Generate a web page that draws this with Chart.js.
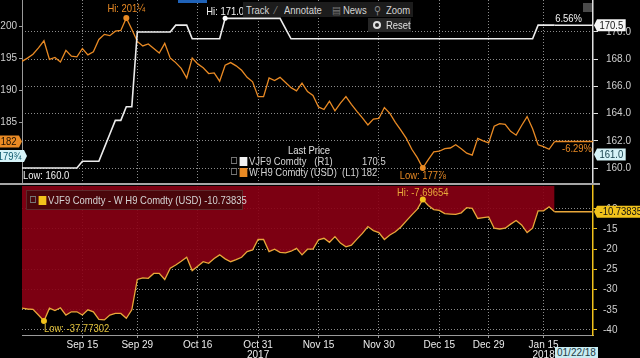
<!DOCTYPE html>
<html>
<head>
<meta charset="utf-8">
<script src="https://cdn.jsdelivr.net/npm/chart.js@4.4.1/dist/chart.umd.min.js"></script>
<style>
  body { margin: 0; background: #000; }
  #wrap { position: relative; width: 640px; height: 358px; overflow: hidden; background: #000;
          font-family: "Liberation Sans", Arial, sans-serif; font-size: 11px; color: #d4d4d4; }
  #topBox { position: absolute; left: 0; top: 0; width: 640px; height: 183px; }
  #botBox { position: absolute; left: 0; top: 185px; width: 640px; height: 173px; }
  .sep { position: absolute; left: 0; top: 183px; width: 600px; height: 2px; background: #a6a6a6; }
  .txt { position: absolute; white-space: nowrap; line-height: 12px; transform: scaleX(0.86); transform-origin: 0 0; }
  .btn { position: absolute; background: #1c1c1c; height: 15px; }
  .ic { display: inline-block; width: 5px; height: 5px; border: 1px solid #777; margin-right: 3px; vertical-align: 1px; }
  .sq { display: inline-block; width: 9px; height: 9px; margin-right: 2px; vertical-align: -1px; }
</style>
</head>
<body>
<div id="wrap">
  <div id="topBox"><canvas id="topChart"></canvas></div>
  <div class="sep"></div>
  <div id="botBox"><canvas id="botChart"></canvas></div>

  <!-- toolbar -->
  <div style="position:absolute;left:178px;top:0;width:29px;height:3px;background:#1f62b8"></div>
  <div class="btn" style="left:243px;top:2px;width:170px"></div>
  <div class="txt" style="left:246px;top:4px;color:#d6d6d6">Track</div>
  <div class="txt" style="left:275px;top:4px;color:#8a8a8a">&#8260;</div>
  <div class="txt" style="left:284px;top:4px">Annotate</div>
  <div class="txt" style="left:332px;top:4px;color:#777">&#9636;</div>
  <div class="txt" style="left:343px;top:4px">News</div>
  <div class="txt" style="left:374px;top:4px;color:#888">&#9906;</div>
  <div class="txt" style="left:386px;top:4px">Zoom</div>
  <div class="btn" style="left:368px;top:18px;width:43px;height:14px;background:#262626"></div>
  <div style="position:absolute;left:373px;top:21px;width:4px;height:4px;border:2px solid #e0e0e0;border-radius:50%"></div>
  <div class="txt" style="left:386px;top:19px;color:#e0e0e0">Reset</div>
  <div style="position:absolute;left:583px;top:3px;width:9px;height:9px;background:#4a4a4a"></div>

  <!-- top legend -->
  <div class="txt" style="left:288px;top:144px;color:#e0e0e0">Last Price</div>
  <div class="txt" style="left:231px;top:155px"><span class="ic"></span><span class="sq" style="background:#f2f2f2"></span>VJF9 Comdty&nbsp;&nbsp;&nbsp;(R1)</div>
  <div class="txt" style="left:362px;top:155px">170.5</div>
  <div class="txt" style="left:231px;top:166px"><span class="ic"></span><span class="sq" style="background:#e98a24"></span>W H9 Comdty (USD)&nbsp;&nbsp;(L1) 182</div>

  <!-- bottom legend -->
  <div style="position:absolute;left:26px;top:190px;width:215px;height:18px;background:#4a060b;border:1px solid #5e2a2c"></div>
  <div class="txt" style="left:30px;top:194px"><span class="ic"></span><span class="sq" style="background:#f1c21b"></span>VJF9 Comdty - W H9 Comdty (USD) -10.73835</div>

  <!-- date box -->
  <div class="txt" style="left:555px;top:347px;background:#c9ecf2;color:#1a3a44;padding:0 2px;line-height:11px;transform:none;font-size:10px">01/22/18</div>
</div>

<script>
// trading-day index of every point, Sep 2017 .. Jan 2018
const tickDays = [11, 21, 32, 43, 54, 65, 76, 85, 95];
const tickLabels = ["Sep 15", "Sep 29", "Oct 16", "Oct 31", "Nov 15", "Nov 30", "Dec 15", "Dec 29", "Jan 15"];
const tickYears = ["", "", "", "2017", "", "", "", "", "2018"];

const leftTicks = [185, 190, 195, 200];
const rightTicks = [160, 162, 164, 166, 168, 170];
const spreadTicks = [-10, -15, -20, -25, -30, -35, -40];

// VJF9 Comdty (R1)
const vjf9 = [
  160.0, 160.0, 160.0, 160.0, 160.0, 160.0, 160.0, 160.0, 160.0, 160.0,
  160.0, 160.5, 160.5, 160.5, 160.5, 161.5, 162.5, 163.5, 163.5, 164.5,
  164.5, 170.0, 170.0, 170.0, 170.0, 170.0, 170.0, 170.0, 170.5, 170.5,
  170.5, 169.5, 169.5, 169.5, 169.5, 169.5, 169.5, 171.0, 171.0, 171.0,
  171.0, 171.0, 171.0, 171.0, 171.0, 171.0, 171.0, 171.0, 170.25, 169.5,
  169.5, 169.5, 169.5, 169.5, 169.5, 169.5, 169.5, 169.5, 169.5, 169.5,
  169.5, 169.5, 169.5, 169.5, 169.5, 169.5, 169.5, 169.5, 169.5, 169.5,
  169.5, 169.5, 169.5, 169.5, 169.5, 169.5, 169.5, 169.5, 169.5, 169.5,
  169.5, 169.5, 169.5, 169.5, 169.5, 169.5, 169.5, 169.5, 169.5, 169.5,
  169.5, 169.5, 169.5, 169.5, 170.5, 170.5, 170.5, 170.5
];

// W H9 Comdty (USD) (L1)
const wh9 = [
  194.5, 195.0, 195.6, 196.6, 197.7, 194.8, 195.1, 194.4, 196.2, 195.3,
  195.2, 196.5, 195.5, 196.0, 197.9, 198.7, 198.5, 199.2, 199.3, 201.25,
  199.5, 197.6, 196.9, 197.2, 196.5, 195.8, 197.3, 195.0, 194.3, 193.4,
  191.9, 195.0, 194.1, 193.5, 192.6, 192.7, 191.4, 193.9, 194.3, 193.8,
  193.1, 192.0, 191.3, 189.0, 189.0, 191.9, 191.5, 192.0, 191.2, 190.4,
  189.9, 191.1, 189.8, 189.2, 187.4, 187.0, 188.3, 186.8, 188.0, 189.0,
  187.8, 186.7, 185.7, 184.6, 185.5, 185.6, 187.3, 186.4, 185.0, 183.8,
  182.5, 180.8, 179.5, 177.875, 179.2, 180.4, 180.5, 180.9, 181.0, 181.5,
  180.9, 180.2, 179.9, 182.5, 182.1, 181.8, 184.4, 184.8, 184.7, 183.6,
  183.0, 184.5, 185.9, 184.0, 181.5, 181.2, 180.8, 182.0
];

// VJF9 Comdty - W H9 Comdty (USD)
const spread = [
  -34.6, -34.8, -34.9, -36.3, -37.77302, -34.6, -35.2, -34.5, -36.3, -35.5,
  -35.5, -36.3, -35.0, -35.5, -37.4, -37.5, -36.3, -35.9, -35.9, -37.1,
  -35.0, -27.5, -27.1, -27.2, -26.0, -26.0, -27.5, -24.7, -23.9, -23.0,
  -22.0, -25.3, -24.2, -23.1, -23.5, -22.3, -21.4, -22.4, -23.1, -22.6,
  -22.0, -20.6, -20.2, -17.6, -17.6, -20.6, -20.0, -20.8, -20.9, -20.5,
  -19.8, -21.4, -20.0, -20.0, -17.7, -17.3, -18.3, -16.9, -18.5, -19.4,
  -19.0, -17.5, -16.1, -14.4, -15.4, -15.9, -17.6, -16.5, -15.7, -14.5,
  -13.0, -11.5, -10.1, -7.69654, -9.2, -10.2, -10.4, -11.2, -11.3, -11.4,
  -11.0, -9.7, -9.9, -12.4, -12.2, -12.0, -14.8, -15.0, -14.8, -13.8,
  -12.9, -14.0, -15.9, -14.8, -10.5, -10.5, -9.5, -10.73835
];

const days = spread.map((_, i) => i);

const ORANGE = "#e98a24";
const WHITE = "#ececec";
const YELLOW = "#f1c21b";
const GRID = "#8c8c8c";
const FAMILY = '"Liberation Sans", Arial, sans-serif';
const FONT = { family: FAMILY, size: 10 };
const COND = 0.86; // Bloomberg's narrow face

function fixedWidth(w) {
  return (s) => { s.width = w; s.paddingTop = 0; s.paddingBottom = 0; };
}

function badge(ctx, tipX, y, text, bg, fg, pointLeft) {
  ctx.save();
  ctx.font = "11px " + FAMILY;
  const tw = ctx.measureText(text).width * COND;
  const w = tw + 5, h = 12;
  const x0 = pointLeft ? tipX + 3 : tipX - 3 - w;
  ctx.fillStyle = bg;
  ctx.beginPath();
  if (pointLeft) {
    ctx.moveTo(tipX, y); ctx.lineTo(x0, y - h / 2); ctx.lineTo(x0 + w, y - h / 2);
    ctx.lineTo(x0 + w, y + h / 2); ctx.lineTo(x0, y + h / 2);
  } else {
    ctx.moveTo(tipX, y); ctx.lineTo(tipX - 3, y - h / 2); ctx.lineTo(x0, y - h / 2);
    ctx.lineTo(x0, y + h / 2); ctx.lineTo(tipX - 3, y + h / 2);
  }
  ctx.closePath();
  ctx.fill();
  ctx.fillStyle = fg;
  ctx.textAlign = "left";
  ctx.textBaseline = "middle";
  ctx.translate(x0 + 2.5, y + 0.5);
  ctx.scale(COND, 1);
  ctx.fillText(text, 0, 0);
  ctx.restore();
}

function label(ctx, text, x, y, color, align) {
  ctx.save();
  ctx.font = "11px " + FAMILY;
  ctx.fillStyle = color;
  ctx.textAlign = align || "center";
  ctx.textBaseline = "middle";
  ctx.translate(x, y);
  ctx.scale(COND, 1);
  ctx.fillText(text, 0, 0);
  ctx.restore();
}

function dot(ctx, x, y, r, color) {
  ctx.fillStyle = color;
  ctx.beginPath();
  ctx.arc(x, y, r, 0, Math.PI * 2);
  ctx.fill();
}

const topMarks = {
  id: "topMarks",
  afterDatasetsDraw(chart) {
    const { ctx, chartArea: a, scales: { x, yL, yR } } = chart;
    const last = wh9.length - 1;
    ctx.save();
    // last price lines
    ctx.lineWidth = 1.5;
    ctx.strokeStyle = ORANGE;
    ctx.beginPath();
    ctx.moveTo(x.getPixelForValue(last), yL.getPixelForValue(wh9[last]));
    ctx.lineTo(a.right, yL.getPixelForValue(wh9[last]));
    ctx.stroke();
    ctx.strokeStyle = WHITE;
    ctx.beginPath();
    ctx.moveTo(x.getPixelForValue(last), yR.getPixelForValue(vjf9[last]));
    ctx.lineTo(a.right, yR.getPixelForValue(vjf9[last]));
    ctx.stroke();

    // hi / low
    const oHi = wh9.indexOf(Math.max(...wh9)), oLo = wh9.indexOf(Math.min(...wh9));
    const wHi = vjf9.indexOf(Math.max(...vjf9)), wLo = vjf9.indexOf(Math.min(...vjf9));
    let px = x.getPixelForValue(oHi), py = yL.getPixelForValue(wh9[oHi]);
    dot(ctx, px, py, 3, ORANGE);
    label(ctx, "Hi: 201\u00BC", px, py - 9, ORANGE);
    px = x.getPixelForValue(oLo); py = yL.getPixelForValue(wh9[oLo]);
    dot(ctx, px, py, 3, ORANGE);
    label(ctx, "Low: 177\u215E", px, py + 8, ORANGE);
    px = x.getPixelForValue(wHi); py = yR.getPixelForValue(vjf9[wHi]);
    dot(ctx, px, py, 2.5, "#fff");
    label(ctx, "Hi: 171.0", px, py - 6, "#f4f4f4");
    px = x.getPixelForValue(wLo); py = yR.getPixelForValue(vjf9[wLo]);
    label(ctx, "Low: 160.0", px + 1, py + 8, "#f4f4f4", "left");

    // change labels
    label(ctx, "6.56%", a.right - 11, yR.getPixelForValue(vjf9[last]) - 6, "#f4f4f4", "right");
    label(ctx, "-6.29%", a.right - 1, yL.getPixelForValue(wh9[last]) + 7, ORANGE, "right");

    // axis badges
    badge(ctx, a.right + 1, yR.getPixelForValue(vjf9[last]), "170.5", "#f6f6f6", "#111", true);
    badge(ctx, a.right + 1, yR.getPixelForValue(161), "161.0", "#d6f3f8", "#0e3a46", true);
    badge(ctx, a.left, yL.getPixelForValue(wh9[last]), "182", ORANGE, "#1a0d00", false);
    badge(ctx, a.left + 5, yL.getPixelForValue(179.75), "179\u00BE", "#d6f3f8", "#0e5a6e", false);
    ctx.restore();
  }
};

const botMarks = {
  id: "botMarks",
  afterDatasetsDraw(chart) {
    const { ctx, chartArea: a, scales: { x, y } } = chart;
    const last = spread.length - 1;
    ctx.save();
    ctx.lineWidth = 1.3;
    ctx.strokeStyle = "#e9a73a";
    ctx.beginPath();
    ctx.moveTo(x.getPixelForValue(last), y.getPixelForValue(spread[last]));
    ctx.lineTo(a.right, y.getPixelForValue(spread[last]));
    ctx.stroke();

    const hi = spread.indexOf(Math.max(...spread)), lo = spread.indexOf(Math.min(...spread));
    let px = x.getPixelForValue(lo), py = y.getPixelForValue(spread[lo]);
    dot(ctx, px, py, 3, YELLOW);
    label(ctx, "Low: -37.77302", px, py + 8, "#e2c23c", "left");
    px = x.getPixelForValue(hi); py = y.getPixelForValue(spread[hi]);
    dot(ctx, px, py, 3, YELLOW);
    label(ctx, "Hi: -7.69654", px, py - 7, "#e8a83a");

    badge(ctx, a.right + 1, y.getPixelForValue(spread[last]), "-10.73835", YELLOW, "#111", true);
    ctx.restore();
  }
};

const xTicksBuild = (s) => { s.ticks = tickDays.map((v) => ({ value: v })); };

new Chart(document.getElementById("topChart"), {
  type: "line",
  data: {
    labels: days,
    datasets: [
      { data: vjf9, yAxisID: "yR", borderColor: WHITE, borderWidth: 1.6, pointRadius: 0, tension: 0 },
      { data: wh9, yAxisID: "yL", borderColor: ORANGE, borderWidth: 1.3, pointRadius: 0, tension: 0 }
    ]
  },
  options: {
    responsive: true,
    maintainAspectRatio: false,
    animation: false,
    devicePixelRatio: 1,
    layout: { padding: 0 },
    plugins: { legend: { display: false }, tooltip: { enabled: false } },
    scales: {
      x: {
        type: "linear", min: 0, max: 104,
        afterBuildTicks: xTicksBuild,
        afterFit: (s) => { s.height = 0; s.paddingLeft = 0; s.paddingRight = 0; },
        ticks: { display: false },
        grid: { color: GRID, drawTicks: false },
        border: { display: false, dash: [1, 2] }
      },
      yL: {
        position: "left", min: 175.55, max: 204.05,
        afterBuildTicks: (s) => { s.ticks = leftTicks.map((v) => ({ value: v })); },
        afterFit: fixedWidth(22),
        ticks: { color: "#cfcfcf", font: FONT, padding: 2 },
        grid: { drawOnChartArea: false, tickLength: 3, tickColor: "#9a9a9a" },
        border: { color: "#9a9a9a", width: 1 }
      },
      yR: {
        position: "right", min: 158.9, max: 172.35,
        afterBuildTicks: (s) => { s.ticks = rightTicks.map((v) => ({ value: v })); },
        afterFit: fixedWidth(47),
        ticks: { color: "#cfcfcf", font: FONT, padding: 8, callback: (v) => v.toFixed(1) },
        grid: { color: GRID, tickColor: "#e0e0e0", tickLength: 5 },
        border: { color: "#e0e0e0", width: 1.5, dash: [1, 2] }
      }
    }
  },
  plugins: [topMarks]
});

new Chart(document.getElementById("botChart"), {
  type: "line",
  data: {
    labels: days,
    datasets: [
      { data: spread, borderColor: "#e9a73a", borderWidth: 1.3, pointRadius: 0, tension: 0,
        fill: "end", backgroundColor: "rgba(138, 0, 20, 0.9)" }
    ]
  },
  options: {
    responsive: true,
    maintainAspectRatio: false,
    animation: false,
    devicePixelRatio: 1,
    layout: { padding: { left: 22, top: 1 } },
    plugins: { legend: { display: false }, tooltip: { enabled: false } },
    scales: {
      x: {
        type: "linear", min: 0, max: 104,
        afterBuildTicks: xTicksBuild,
        afterFit: (s) => { s.height = 23; s.paddingLeft = 0; s.paddingRight = 0; },
        ticks: {
          color: "#ececec", font: { ...FONT, lineHeight: 1.0 }, padding: 2, maxRotation: 0, autoSkip: false,
          callback: (v) => {
            const k = tickDays.indexOf(v);
            return tickYears[k] ? [tickLabels[k], tickYears[k]] : tickLabels[k];
          }
        },
        grid: { color: GRID, tickColor: "#9a9a9a", tickLength: 3 },
        border: { color: "#9a9a9a", width: 1, dash: [1, 2] }
      },
      y: {
        position: "right", min: -41.24, max: -4.36,
        afterBuildTicks: (s) => { s.ticks = spreadTicks.map((v) => ({ value: v })); },
        afterFit: fixedWidth(47),
        ticks: { color: "#cfcfcf", font: FONT, padding: 6 },
        grid: { color: GRID, tickColor: YELLOW, tickLength: 4 },
        border: { color: YELLOW, width: 1.5, dash: [1, 2] }
      }
    }
  },
  plugins: [botMarks]
});
</script>
</body>
</html>
